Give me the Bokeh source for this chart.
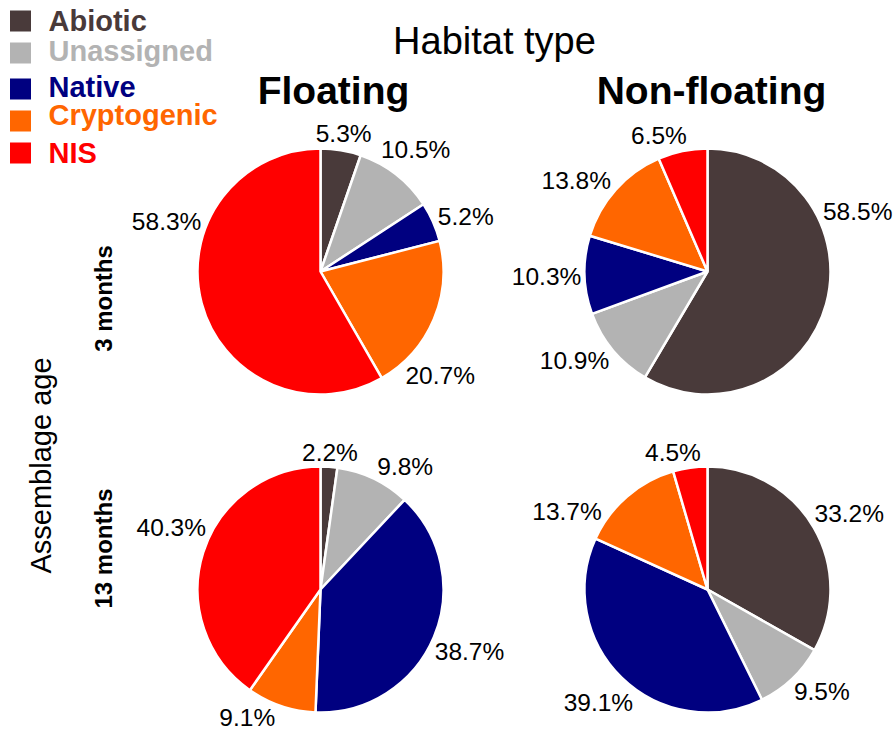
import math
from bokeh.plotting import figure
from bokeh.models import Range1d, ColumnDataSource
from bokeh.core.properties import value
from bokeh.embed import file_html
from bokeh.resources import INLINE

# ---------------- data ----------------
categories = ["Abiotic", "Unassigned", "Native", "Cryptogenic", "NIS"]
colors = ["#493a3a", "#b3b3b3", "#000080", "#ff6600", "#ff0000"]
habitats = ["Floating", "Non-floating"]
ages = ["3 months", "13 months"]
floating_3m = [5.3, 10.5, 5.2, 20.7, 58.3]
nonfloating_3m = [58.5, 10.9, 10.3, 13.8, 6.5]
floating_13m = [2.2, 9.8, 38.7, 9.1, 40.3]
nonfloating_13m = [33.2, 9.5, 39.1, 13.7, 4.5]

# label angle nudges (degrees, clockwise) - placement style only
nudge_f3 = [0, 0, 3, 18, 33]
nudge_nf3 = [-37, 6, 0, -7, -8]
nudge_f13 = [0, 9, 0, 11, 5]
nudge_nf13 = [2, -5, 0, -20, -6]

FONT = "Liberation Sans"
W, H = 893, 731


def Y(v):
    return H - v


p = figure(width=W, height=H, output_backend="svg", toolbar_location=None,
           x_range=Range1d(0, W), y_range=Range1d(0, H),
           min_border=0, background_fill_color="white")
p.axis.visible = False
p.grid.visible = False
p.outline_line_color = None

R = 123
cols_x = [320, 707]
rows_y = [271, 589]
pies = [
    (floating_3m, nudge_f3, 0, 0),
    (nonfloating_3m, nudge_nf3, 1, 0),
    (floating_13m, nudge_f13, 0, 1),
    (nonfloating_13m, nudge_nf13, 1, 1),
]

LFS = 24.5
PAD = 3
for vals, nudges, ci, ri in pies:
    cx, cy = cols_x[ci], Y(rows_y[ri])
    total = sum(vals)
    starts, ends, lx, ly, labels = [], [], [], [], []
    cum = 0.0
    for v, nd in zip(vals, nudges):
        f0 = cum / total
        f1 = (cum + v) / total
        cum += v
        starts.append(math.pi / 2 - 2 * math.pi * f0)
        ends.append(math.pi / 2 - 2 * math.pi * f1)
        theta = math.radians(360 * (f0 + f1) / 2 + nd)
        txt = f"{v:.1f}%"
        ndig = sum(ch.isdigit() for ch in txt)
        w = LFS * (0.556 * ndig + 0.278 + 0.889)
        h = LFS * 0.75
        d = R + PAD + abs(math.sin(theta)) * w / 2 + abs(math.cos(theta)) * h / 2
        lx.append(cx + d * math.sin(theta))
        ly.append(cy + d * math.cos(theta))
        labels.append(txt)
    src = ColumnDataSource(dict(start=starts, end=ends, color=colors,
                                x=[cx] * len(vals), y=[cy] * len(vals)))
    p.wedge(x="x", y="y", radius=R, start_angle="start", end_angle="end",
            direction="clock", fill_color="color", line_color="white",
            line_width=2.5, source=src)
    p.text(x=lx, y=ly, text=labels, text_font=value(FONT),
           text_font_size=f"{LFS}px", text_align="center",
           text_baseline="middle", text_color="black")

# titles
p.text(x=[494], y=[Y(40)], text=["Habitat type"], text_font=value(FONT),
       text_font_size="38px", text_align="center", text_baseline="middle")
p.text(x=[333, 711], y=[Y(90), Y(90)], text=habitats, text_font=value(FONT),
       text_font_size="39px", text_font_style="bold", text_align="center",
       text_baseline="middle")
p.text(x=[40], y=[Y(465)], text=["Assemblage age"], text_font=value(FONT),
       text_font_size="29px", text_align="center", text_baseline="middle",
       angle=math.pi / 2)
p.text(x=[103, 103], y=[Y(298), Y(548)], text=ages, text_font=value(FONT),
       text_font_size="24px", text_font_style="bold", text_align="center",
       text_baseline="middle", angle=math.pi / 2)

# legend
leg_y = [20.5, 52.5, 88.5, 120.5, 152.5]
txt_y = [20.5, 50.5, 86.5, 114.5, 152.5]
p.scatter(x=[20] * 5, y=[Y(v) for v in leg_y], marker="square", size=21,
          fill_color=colors, line_color=None)
p.text(x=[48] * 5, y=[Y(v) for v in txt_y], text=categories,
       text_font=value(FONT), text_font_size="29px", text_font_style="bold",
       text_color=colors, text_align="left", text_baseline="middle")

open("out.html", "w").write(file_html(p, INLINE))
